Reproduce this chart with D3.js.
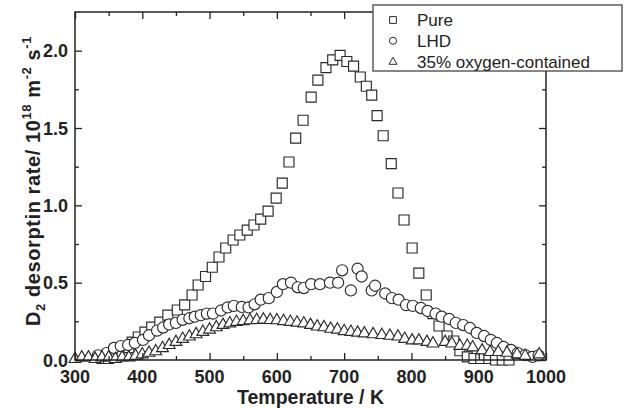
<!DOCTYPE html>
<html>
<head>
<meta charset="utf-8">
<script src="https://cdn.jsdelivr.net/npm/d3@7/dist/d3.min.js"></script>
<style>
  body { margin: 0; background: #fff; }
  text { font-family: "Liberation Sans", Arial, sans-serif; }
</style>
</head>
<body>
<div id="chart"></div>
<script>
// Pure (squares)
var pureT = [340, 350, 360, 370, 380, 385, 394, 404, 414, 426, 438, 452, 463, 474, 483, 494, 504, 514, 524, 535,
             545, 556, 566, 576, 587, 599, 608, 618, 628, 639, 651, 661, 673, 683, 694, 704, 714, 724, 733, 741,
             749, 758, 770, 780, 789, 801, 811, 822, 832, 841, 853, 863, 872, 883, 893, 903, 915, 925, 935, 945];
var pureV = [0.01, 0.01, 0.02, 0.04, 0.08, 0.116, 0.149, 0.18, 0.213, 0.245, 0.29, 0.323, 0.356, 0.42, 0.485, 0.54, 0.60, 0.666, 0.724, 0.776,
             0.808, 0.84, 0.873, 0.911, 0.963, 1.047, 1.144, 1.28, 1.435, 1.55, 1.70, 1.81, 1.89, 1.94, 1.97, 1.93, 1.90, 1.83, 1.77, 1.713,
             1.58, 1.45, 1.27, 1.08, 0.905, 0.724, 0.562, 0.42, 0.30, 0.22, 0.155, 0.123, 0.06, 0.02, 0.01, 0.01, 0.01, 0.0, 0.0, 0.0];

// LHD (circles)
var lhdT = [334, 347, 358, 368, 379, 389, 401, 410, 422, 431, 440, 450, 460, 470, 478, 487, 496, 505, 517, 527,
            536, 548, 558, 567, 576, 588, 600, 609, 621, 631, 640, 651, 664, 679, 691, 697, 710, 720, 726, 741,
            746, 761, 771, 781, 792, 802, 814, 824, 836, 845, 856, 866, 877, 887, 897, 908, 918, 927, 937, 948,
            958, 969, 980, 989];
var lhdV = [0.03, 0.045, 0.078, 0.09, 0.097, 0.11, 0.13, 0.16, 0.19, 0.21, 0.23, 0.24, 0.26, 0.27, 0.28, 0.29, 0.30, 0.30, 0.32, 0.34,
            0.35, 0.343, 0.34, 0.36, 0.39, 0.40, 0.44, 0.49, 0.50, 0.47, 0.465, 0.49, 0.49, 0.50, 0.50, 0.58, 0.45, 0.59, 0.54, 0.45,
            0.48, 0.43, 0.40, 0.39, 0.355, 0.35, 0.336, 0.317, 0.30, 0.28, 0.265, 0.24, 0.226, 0.207, 0.175, 0.155, 0.13, 0.11, 0.084, 0.065,
            0.045, 0.032, 0.02, 0.03];

// 35% oxygen-contained (triangles)
var oxyT = [300, 310, 320, 330, 340, 350, 360, 370, 380, 390, 400, 410, 420, 430, 440, 450, 460, 470, 480, 490,
            500, 510, 520, 530, 540, 550, 560, 570, 580, 590, 600, 610, 620, 630, 640, 650, 660, 670, 680, 690,
            700, 710, 720, 730, 743, 756, 768, 780, 790, 801, 811, 823, 832, 850, 860, 872, 883, 891, 905, 917,
            929, 942, 957, 969, 990];
var oxyV = [0.01, 0.02, 0.02, 0.01, 0.02, 0.02, 0.01, 0.02, 0.02, 0.03, 0.04, 0.05, 0.06, 0.08, 0.10, 0.12, 0.14, 0.155, 0.17, 0.185,
            0.20, 0.215, 0.23, 0.24, 0.25, 0.255, 0.26, 0.262, 0.265, 0.262, 0.26, 0.255, 0.25, 0.245, 0.24, 0.23, 0.22, 0.215, 0.205, 0.20,
            0.19, 0.185, 0.18, 0.175, 0.17, 0.165, 0.16, 0.155, 0.14, 0.13, 0.13, 0.12, 0.11, 0.12, 0.11, 0.095, 0.095, 0.085, 0.065, 0.055,
            0.055, 0.05, 0.04, 0.03, 0.04];

var xMajor = [300, 400, 500, 600, 700, 800, 900, 1000];
var xMinor = [350, 450, 550, 650, 750, 850, 950];
var yMajor = [0.0, 0.5, 1.0, 1.5, 2.0];
var yMinor = [0.25, 0.75, 1.25, 1.75];

var seriesNames = ["Pure", "LHD", "35% oxygen-contained"];

// size of the page
var W = 627, H = 409;
var plot = {left: 75, right: 546, top: 12, bottom: 360};

var svg = d3.select("#chart")
  .append("svg")
    .attr("width", W)
    .attr("height", H);

var x = d3.scaleLinear()
  .domain([300, 1000])
  .range([plot.left, plot.right]);

var y = d3.scaleLinear()
  .domain([0, 2.25])
  .range([plot.bottom, plot.top]);

var ink = "#222";

// markers
var mk = "#2a2a2a";
function drawSeries(T, V, kind) {
  var pts = T.map(function(t, i){ return {t: t, v: V[i]}; });
  var g = svg.append("g");
  var sel = g.selectAll("path").data(pts).enter().append("path")
    .attr("transform", function(d){ return "translate(" + x(d.t) + "," + y(d.v) + ")"; })
    .attr("fill", "#fff")
    .attr("stroke", mk)
    .attr("stroke-width", 1.15);
  if (kind == "square") sel.attr("d", "M-5,-5H5V5H-5Z");
  if (kind == "circle") sel.attr("d", d3.symbol(d3.symbolCircle, 98)());
  if (kind == "triangle") sel.attr("d", "M0,-6.3L5.9,4L-5.9,4Z");
}

drawSeries(pureT, pureV, "square");
drawSeries(lhdT, lhdV, "circle");
drawSeries(oxyT, oxyV, "triangle");

// axes, ticks pointing inward
function tickAxis(axis, transform, vals, size) {
  var g = svg.append("g")
    .attr("transform", transform)
    .call(axis.tickValues(vals).tickSize(size).tickFormat(""));
  g.select(".domain").remove();
  g.selectAll("line").attr("stroke", ink).attr("stroke-width", 1.3);
  return g;
}
tickAxis(d3.axisBottom(x), "translate(0," + plot.bottom + ")", xMajor, -7);
tickAxis(d3.axisBottom(x), "translate(0," + plot.bottom + ")", xMinor, -4);
tickAxis(d3.axisTop(x), "translate(0," + plot.top + ")", xMajor, -7);
tickAxis(d3.axisTop(x), "translate(0," + plot.top + ")", xMinor, -4);
tickAxis(d3.axisLeft(y), "translate(" + plot.left + ",0)", yMajor, -7);
tickAxis(d3.axisLeft(y), "translate(" + plot.left + ",0)", yMinor, -4);
tickAxis(d3.axisRight(y), "translate(" + plot.right + ",0)", yMajor, -7);
tickAxis(d3.axisRight(y), "translate(" + plot.right + ",0)", yMinor, -4);

svg.append("rect")
  .attr("x", plot.left).attr("y", plot.top)
  .attr("width", plot.right - plot.left)
  .attr("height", plot.bottom - plot.top)
  .attr("fill", "none")
  .attr("stroke", ink)
  .attr("stroke-width", 1.5);

// tick labels
svg.append("g").selectAll("text").data(xMajor).enter().append("text")
  .attr("x", function(d){ return x(d); })
  .attr("y", 383)
  .attr("text-anchor", "middle")
  .attr("font-size", 18)
  .attr("font-weight", "bold")
  .attr("fill", ink)
  .text(function(d){ return d; });

svg.append("g").selectAll("text").data(yMajor).enter().append("text")
  .attr("x", 68)
  .attr("y", function(d){ return y(d) + 6.5; })
  .attr("text-anchor", "end")
  .attr("font-size", 18)
  .attr("font-weight", "bold")
  .attr("fill", ink)
  .text(function(d){ return d3.format(".1f")(d); });

// axis titles
svg.append("text")
  .attr("x", (plot.left + plot.right) / 2)
  .attr("y", 404)
  .attr("text-anchor", "middle")
  .attr("font-size", 19.5)
  .attr("font-weight", "bold")
  .attr("fill", ink)
  .text("Temperature / K");

var yt = svg.append("text")
  .attr("transform", "translate(40,181) rotate(-90)")
  .attr("text-anchor", "middle")
  .attr("font-size", 20)
  .attr("font-weight", "bold")
  .attr("letter-spacing", 0.6)
  .attr("fill", ink);
yt.append("tspan").text("D");
yt.append("tspan").attr("font-size", 13).attr("dy", 5).text("2");
yt.append("tspan").attr("dy", -5).text(" desorptin rate/ 10");
yt.append("tspan").attr("font-size", 13).attr("dy", -9).text("18");
yt.append("tspan").attr("dy", 9).text(" m");
yt.append("tspan").attr("font-size", 13).attr("dy", -9).text("-2");
yt.append("tspan").attr("dy", 9).text(" s");
yt.append("tspan").attr("font-size", 13).attr("dy", -9).text("-1");

// legend
var lg = svg.append("g");
lg.append("rect")
  .attr("x", 373).attr("y", 5)
  .attr("width", 249).attr("height", 66)
  .attr("fill", "#fff")
  .attr("stroke", "#444")
  .attr("stroke-width", 1.3);
var legSym = ["M-3.4,-3.4H3.4V3.4H-3.4Z", d3.symbol(d3.symbolCircle, 40)(), "M0,-4.3L4,2.7L-4,2.7Z"];
seriesNames.forEach(function(name, i) {
  var cy = 20 + i * 20.8;
  lg.append("path")
    .attr("transform", "translate(393," + cy + ")")
    .attr("d", legSym[i])
    .attr("fill", "#fff")
    .attr("stroke", mk)
    .attr("stroke-width", 1);
  lg.append("text")
    .attr("x", 417)
    .attr("y", cy + 6)
    .attr("font-size", 17)
    .attr("fill", ink)
    .text(name);
});
</script>
</body>
</html>
